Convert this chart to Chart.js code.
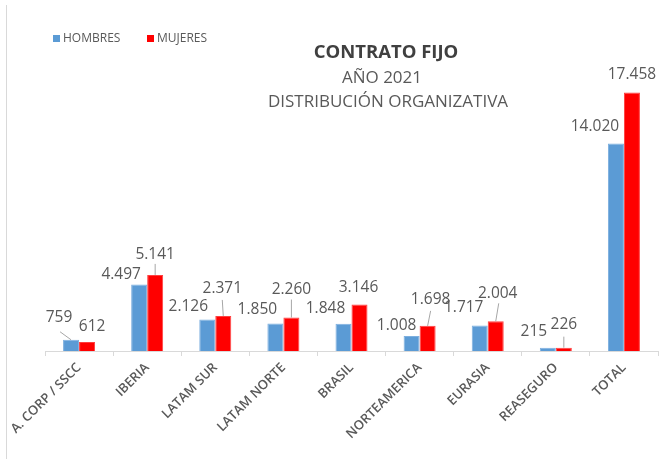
<!DOCTYPE html>
<html>
<head>
<meta charset="utf-8">
<script src="https://cdn.jsdelivr.net/npm/chart.js@4"></script>
<style>
  html, body { margin: 0; padding: 0; background: #fff; }
  #wrap { width: 664px; height: 459px; position: relative; }
</style>
</head>
<body>
<div id="wrap"><canvas id="grafico"></canvas></div>
<script>
// datos
const categorias = ['A. CORP / SSCC', 'IBERIA', 'LATAM SUR', 'LATAM NORTE', 'BRASIL', 'NORTEAMERICA', 'EURASIA', 'REASEGURO', 'TOTAL']
const hombres = [759, 4497, 2126, 1850, 1848, 1008, 1717, 215, 14020]
const mujeres = [612, 5141, 2371, 2260, 3146, 1698, 2004, 226, 17458]

// donde va cada etiqueta respecto a la punta de su barra: [dx, dy, linea guia]
const ajustesH = [[-12, -22, [1, 14]], [-18, -10], [-19, -13], [-18, -14], [-18, -15], [-15, -11], [-16, -18], [-14, -16], [-21, -17]]
const ajustesM = [[5, -15], [0, -20, [0, 9]], [-1, -27, [0, 11]], [0, -28, [0, 10]], [-1, -17], [3, -26, [0, 11]], [2, -28, [1, 10]], [0, -23, [0, 12]], [0, -18]]

const gris = '#595959'

function miles(v) {
    return String(v).replace(/\B(?=(\d{3})+(?!\d))/g, '.')
}

const etiquetas = {
    id: 'etiquetas',
    afterDatasetsDraw(chart) {
        const ctx = chart.ctx
        ctx.save()
        ctx.font = '15.5px "Open Sans"'
        ctx.textAlign = 'center'
        ctx.textBaseline = 'middle'
        const ajustes = [ajustesH, ajustesM]
        chart.data.datasets.forEach((ds, di) => {
            chart.getDatasetMeta(di).data.forEach((bar, i) => {
                const [dx, dy, guia] = ajustes[di][i]
                const x = bar.x + dx, y = bar.y + dy
                if (guia) {
                    ctx.strokeStyle = '#a6a6a6'
                    ctx.lineWidth = 1
                    ctx.beginPath()
                    ctx.moveTo(x + guia[0], y + guia[1])
                    ctx.lineTo(bar.x, bar.y)
                    ctx.stroke()
                }
                ctx.fillStyle = gris
                ctx.fillText(miles(ds.data[i]), x, y)
            })
        })
        ctx.restore()
    }
}

// titulo, leyenda y el marco de la izquierda
const adornos = {
    id: 'adornos',
    afterDraw(chart) {
        const ctx = chart.ctx
        ctx.save()
        ctx.strokeStyle = '#d9d9d9'
        ctx.lineWidth = 1
        ctx.beginPath()
        ctx.moveTo(6.5, 5)
        ctx.lineTo(6.5, 459)
        ctx.stroke()

        ctx.textAlign = 'center'
        ctx.textBaseline = 'middle'
        ctx.fillStyle = '#404040'
        ctx.font = 'bold 18.5px "Open Sans"'
        ctx.fillText('CONTRATO FIJO', 386, 53)
        ctx.fillStyle = gris
        ctx.font = '17px "Open Sans"'
        ctx.fillText('AÑO 2021', 382, 78)
        ctx.fillText('DISTRIBUCIÓN ORGANIZATIVA', 388, 102)

        ctx.textAlign = 'left'
        ctx.font = '12px "Open Sans"'
        let x = 53
        chart.data.datasets.forEach(ds => {
            ctx.fillStyle = ds.backgroundColor
            ctx.fillRect(x, 35, 7, 7)
            ctx.fillStyle = gris
            ctx.fillText(ds.label, x + 10, 39)
            x += 94
        })
        ctx.restore()
    }
}

new Chart(document.getElementById('grafico'), {
    type: 'bar',
    data: {
        labels: categorias,
        datasets: [
            { label: 'HOMBRES', data: hombres, backgroundColor: '#5B9BD5', borderColor: '#7DAFDF', borderWidth: 1 },
            { label: 'MUJERES', data: mujeres, backgroundColor: '#FF0000', borderColor: '#FF4040', borderWidth: 1 }
        ]
    },
    options: {
        responsive: true,
        maintainAspectRatio: false,
        animation: false,
        layout: { padding: { left: 45, right: 6, top: 55, bottom: 8 } },
        datasets: { bar: { categoryPercentage: 0.47, barPercentage: 1 } },
        plugins: {
            legend: { display: false },
            tooltip: { enabled: false }
        },
        scales: {
            x: {
                afterFit(scale) { scale.height = 100 },
                border: { color: '#d9d9d9' },
                grid: { drawOnChartArea: false, color: '#d9d9d9', tickLength: 5 },
                ticks: {
                    autoSkip: false, minRotation: 45, maxRotation: 45, padding: 4,
                    color: gris, font: { family: 'Open Sans', size: 13, weight: '600' }
                }
            },
            y: { display: false, min: 0, max: 20000 }
        }
    },
    plugins: [etiquetas, adornos]
})
</script>
</body>
</html>
